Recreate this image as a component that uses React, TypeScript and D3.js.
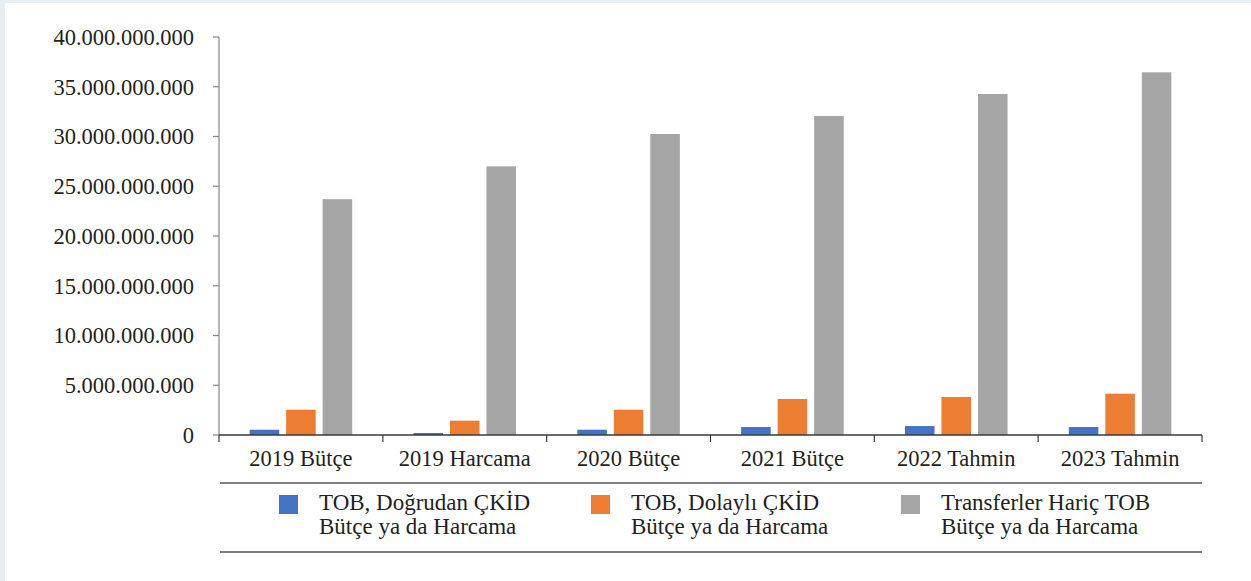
import React from "react";
import * as d3 from "d3";

const categories = ["2019 Bütçe", "2019 Harcama", "2020 Bütçe", "2021 Bütçe", "2022 Tahmin", "2023 Tahmin"];
const seriesNames = [
  ["TOB, Doğrudan ÇKİD", "Bütçe ya da Harcama"],
  ["TOB, Dolaylı ÇKİD", "Bütçe ya da Harcama"],
  ["Transferler Hariç TOB", "Bütçe ya da Harcama"],
];
const direct = [530000000, 200000000, 530000000, 800000000, 900000000, 800000000];
const indirect = [2540000000, 1440000000, 2540000000, 3620000000, 3820000000, 4150000000];
const total = [23700000000, 27000000000, 30250000000, 32060000000, 34270000000, 36450000000];
const yTicks = [0, 5000000000, 10000000000, 15000000000, 20000000000, 25000000000, 30000000000, 35000000000, 40000000000];
const colors = ["#4472C4", "#ED7D31", "#A5A5A5"];

const W = 1251, H = 581;
const left = 219, right = 1202, top = 37, bottom = 435;
const font = "'Liberation Serif', serif";
const textColor = "#231f20";

const fmt = (v: number) => (v === 0 ? "0" : d3.format(",")(v).replace(/,/g, "."));

export default function App() {
  const series = [direct, indirect, total];
  const x = d3.scaleBand<string>().domain(categories).range([left, right]).paddingInner(0).paddingOuter(0);
  const x1 = d3.scaleBand<number>().domain([0, 1, 2]).range([0, x.bandwidth()]).paddingInner(0.19).paddingOuter(0.84);
  const y = d3.scaleLinear().domain([0, 40000000000]).range([bottom, top]);
  const legendX = [279, 591, 901];

  return (
    <div style={{ position: "fixed", left: 0, top: 0 }}>
      <svg width={W} height={H} style={{ display: "block" }}>
        <rect x={0} y={0} width={W} height={H} fill="#e8eef4" />
        <rect x={5} y={3} width={W - 5} height={H - 3} fill="#ffffff" />
        <line x1={left} x2={left} y1={top} y2={bottom} stroke="#868686" strokeWidth={1.2} />
        {yTicks.map((t) => (
          <g key={t}>
            <line x1={left - 6} x2={left} y1={y(t)} y2={y(t)} stroke="#868686" strokeWidth={1.2} />
            <text x={194} y={y(t)} dy="0.35em" textAnchor="end" fontFamily={font} fontSize={22.5} fill={textColor}>
              {fmt(t)}
            </text>
          </g>
        ))}
        {categories.map((c, i) => (
          <g key={c} transform={`translate(${x(c)},0)`}>
            {series.map((s, k) => (
              <rect
                key={k}
                x={x1(k)}
                y={y(s[i])}
                width={x1.bandwidth()}
                height={bottom - y(s[i])}
                fill={colors[k]}
              />
            ))}
          </g>
        ))}
        <line x1={left} x2={right} y1={bottom} y2={bottom} stroke="#3a3a3a" strokeWidth={1.5} />
        {[...categories.map((c) => x(c) as number), right].map((px, i) => (
          <line key={i} x1={px} x2={px} y1={bottom} y2={bottom + 7} stroke="#3a3a3a" strokeWidth={1.2} />
        ))}
        {categories.map((c) => (
          <text
            key={c}
            x={(x(c) as number) + x.bandwidth() / 2}
            y={466}
            textAnchor="middle"
            fontFamily={font}
            fontSize={22.5}
            fill={textColor}
          >
            {c}
          </text>
        ))}
        <line x1={220} x2={1202} y1={483} y2={483} stroke="#7f7f7f" strokeWidth={2} />
        <line x1={220} x2={1202} y1={552} y2={552} stroke="#7f7f7f" strokeWidth={2} />
        {seriesNames.map((n, k) => (
          <g key={k}>
            <rect x={legendX[k]} y={495} width={19} height={19} fill={colors[k]} />
            <text x={legendX[k] + 40} y={510} fontFamily={font} fontSize={23} fill={textColor}>
              {n[0]}
            </text>
            <text x={legendX[k] + 40} y={534} fontFamily={font} fontSize={23} fill={textColor}>
              {n[1]}
            </text>
          </g>
        ))}
      </svg>
    </div>
  );
}
